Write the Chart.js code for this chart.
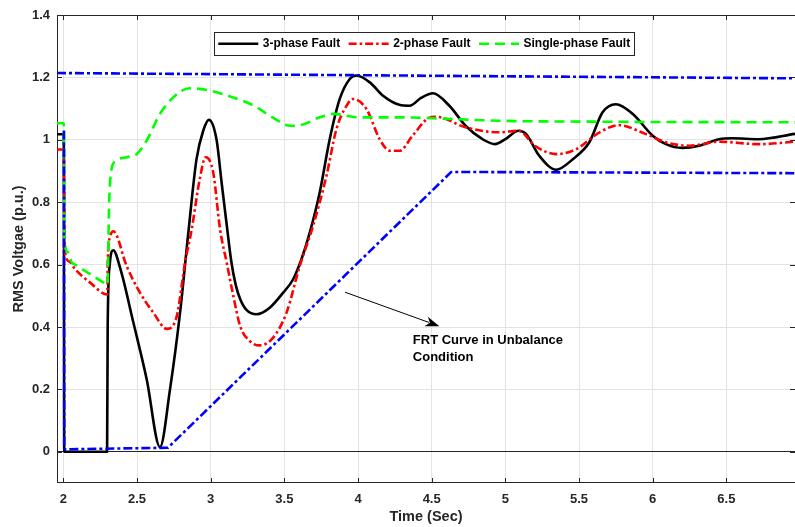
<!DOCTYPE html>
<html>
<head>
<meta charset="utf-8">
<script src="https://cdn.jsdelivr.net/npm/chart.js@4.4.1/dist/chart.umd.min.js"></script>
<style>
html,body{margin:0;padding:0;background:#ffffff;}
canvas{display:block;}
</style>
</head>
<body>
<canvas id="c" width="795" height="527"></canvas>
<script>
// ---------- data ----------
const xTicks = [2, 2.5, 3, 3.5, 4, 4.5, 5, 5.5, 6, 6.5];
const yTicks = [0, 0.2, 0.4, 0.6, 0.8, 1, 1.2, 1.4];
const seriesLabels = ['3-phase Fault', '2-phase Fault', 'Single-phase Fault'];
const axisTitles = ['Time (Sec)', 'RMS Voltgae (p.u.)'];
const annotationText = ['FRT Curve in Unbalance', 'Condition'];

const threePhaseT = [1.957, 2.003, 2.006, 2.297, 2.301, 2.315, 2.339, 2.385, 2.475, 2.566, 2.656, 2.724, 2.792, 2.85, 2.904, 2.95, 2.988, 3.04, 3.075, 3.107, 3.14, 3.17, 3.2, 3.243, 3.311, 3.401, 3.492, 3.56, 3.616, 3.673, 3.74, 3.808, 3.876, 3.944, 3.99, 4.08, 4.17, 4.28, 4.35, 4.43, 4.508, 4.62, 4.73, 4.845, 4.93, 5.0, 5.09, 5.14, 5.23, 5.345, 5.458, 5.57, 5.66, 5.75, 5.865, 6.0, 6.09, 6.2, 6.316, 6.45, 6.54, 6.72, 6.966];
const threePhaseV = [1.018, 1.018, 0.0, 0.0, 0.4, 0.6, 0.646, 0.59, 0.415, 0.232, 0.015, 0.2, 0.445, 0.71, 0.938, 1.03, 1.064, 1.0, 0.86, 0.735, 0.61, 0.535, 0.49, 0.455, 0.441, 0.462, 0.51, 0.553, 0.617, 0.703, 0.831, 1.002, 1.131, 1.195, 1.206, 1.184, 1.141, 1.112, 1.109, 1.135, 1.149, 1.109, 1.045, 1.002, 0.986, 1.002, 1.029, 1.019, 0.949, 0.904, 0.938, 0.992, 1.088, 1.114, 1.083, 1.013, 0.986, 0.974, 0.981, 1.002, 1.005, 1.002, 1.019];

const twoPhaseT = [1.957, 2.003, 2.01, 2.04, 2.08, 2.18, 2.298, 2.302, 2.318, 2.339, 2.43, 2.52, 2.611, 2.702, 2.77, 2.826, 2.87, 2.926, 2.965, 3.017, 3.064, 3.109, 3.154, 3.2, 3.265, 3.333, 3.424, 3.515, 3.605, 3.695, 3.786, 3.854, 3.922, 3.966, 4.057, 4.147, 4.215, 4.283, 4.37, 4.48, 4.53, 4.73, 4.96, 5.09, 5.2, 5.345, 5.48, 5.64, 5.77, 5.95, 6.09, 6.25, 6.45, 6.72, 6.966];
const twoPhaseV = [0.969, 0.969, 0.645, 0.61, 0.585, 0.543, 0.504, 0.62, 0.69, 0.707, 0.595, 0.51, 0.446, 0.394, 0.435, 0.606, 0.71, 0.874, 0.944, 0.896, 0.712, 0.606, 0.499, 0.403, 0.355, 0.341, 0.366, 0.446, 0.596, 0.724, 0.885, 1.035, 1.109, 1.131, 1.099, 1.002, 0.965, 0.965, 1.013, 1.07, 1.074, 1.04, 1.024, 1.029, 0.981, 0.954, 0.97, 1.024, 1.047, 1.019, 0.992, 0.981, 0.994, 0.986, 0.994];

const singlePhaseT = [1.957, 2.003, 2.008, 2.03, 2.057, 2.08, 2.18, 2.27, 2.298, 2.302, 2.31, 2.325, 2.35, 2.43, 2.497, 2.565, 2.656, 2.746, 2.859, 2.994, 3.15, 3.29, 3.42, 3.54, 3.61, 3.74, 3.83, 4.01, 4.28, 4.51, 4.96, 5.64, 6.966];
const singlePhaseV = [1.053, 1.053, 0.68, 0.64, 0.607, 0.6, 0.57, 0.543, 0.535, 0.56, 0.78, 0.9, 0.93, 0.944, 0.954, 0.997, 1.083, 1.136, 1.165, 1.158, 1.136, 1.11, 1.072, 1.045, 1.047, 1.072, 1.083, 1.072, 1.072, 1.069, 1.061, 1.058, 1.056];

const frtUpperT = [1.957, 6.966];
const frtUpperV = [1.214, 1.197];
const frtLowerT = [2.004, 2.006, 2.71, 4.633, 6.966];
const frtLowerV = [1.03, 0.008, 0.013, 0.897, 0.893];

// ---------- helpers ----------
const pts = (t, v) => t.map((x, i) => ({x: x, y: v[i]}));
const FONT = '"Liberation Sans", Arial, Helvetica, sans-serif';
const AXC = '#262626';

const frame = {
  id: 'frame',
  beforeDatasetsDraw(chart) {
    const {ctx, chartArea: a, scales: {x, y}} = chart;
    ctx.save();
    ctx.strokeStyle = AXC;
    ctx.lineWidth = 1;
    ctx.beginPath();
    ctx.moveTo(a.left + 0.5, a.top); ctx.lineTo(a.left + 0.5, a.bottom);
    ctx.moveTo(a.left, a.top + 0.5); ctx.lineTo(a.right, a.top + 0.5);
    ctx.moveTo(a.left, a.bottom - 0.5); ctx.lineTo(a.right, a.bottom - 0.5);
    const L = 5;
    xTicks.forEach(v => {
      const p = Math.round(x.getPixelForValue(v)) + 0.5;
      ctx.moveTo(p, a.bottom); ctx.lineTo(p, a.bottom - L);
      ctx.moveTo(p, a.top); ctx.lineTo(p, a.top + L);
    });
    yTicks.forEach(v => {
      const p = Math.round(y.getPixelForValue(v)) + 0.5;
      ctx.moveTo(a.left, p); ctx.lineTo(a.left + L, p);
      ctx.moveTo(a.right, p); ctx.lineTo(a.right - L, p);
    });
    ctx.stroke();
    ctx.restore();
  }
};

const legendBox = {
  id: 'legendBox',
  afterDatasetsDraw(chart, args, opts) {
    const {ctx, chartArea: a} = chart;
    ctx.save();
    ctx.font = 'bold 12px ' + FONT;
    const items = chart.data.datasets.filter(d => d.inLegend);
    const sample = 40, gapT = 4.5, gapI = 8.5, pad = 4.3;
    let w = pad * 2;
    items.forEach((d, i) => { w += sample + gapT + ctx.measureText(d.label).width + (i ? gapI : 0); });
    const h = 22.5;
    const left = a.left + opts.dx, top = a.top + opts.dy;
    ctx.fillStyle = '#ffffff';
    ctx.fillRect(left, top, w, h);
    ctx.strokeStyle = AXC; ctx.lineWidth = 1;
    ctx.strokeRect(Math.round(left) + 0.5, Math.round(top) + 0.5, Math.round(w), Math.round(h));
    let cx = left + pad;
    const cy = top + h / 2 + 0.5;
    items.forEach((d, i) => {
      if (i) cx += gapI;
      ctx.beginPath();
      ctx.strokeStyle = d.borderColor;
      ctx.lineWidth = d.borderWidth;
      ctx.setLineDash(d.borderDash || []);
      ctx.moveTo(cx, cy); ctx.lineTo(cx + sample, cy);
      ctx.stroke();
      ctx.setLineDash([]);
      cx += sample + gapT;
      ctx.fillStyle = '#000000';
      ctx.textAlign = 'left'; ctx.textBaseline = 'middle';
      ctx.fillText(d.label, cx, cy);
      cx += ctx.measureText(d.label).width;
    });
    ctx.restore();
  }
};

const annotation = {
  id: 'annotation',
  afterDatasetsDraw(chart, args, o) {
    const {ctx, scales: {x, y}} = chart;
    const x0 = x.getPixelForValue(o.from[0]), y0 = y.getPixelForValue(o.from[1]);
    const x1 = x.getPixelForValue(o.to[0]), y1 = y.getPixelForValue(o.to[1]);
    ctx.save();
    ctx.strokeStyle = '#000000'; ctx.fillStyle = '#000000'; ctx.lineWidth = 1;
    const ang = Math.atan2(y1 - y0, x1 - x0);
    const hl = 14, hw = 5;
    const bx = x1 - hl * Math.cos(ang), by = y1 - hl * Math.sin(ang);
    ctx.beginPath(); ctx.moveTo(x0, y0); ctx.lineTo(bx + 3 * Math.cos(ang), by + 3 * Math.sin(ang)); ctx.stroke();
    ctx.beginPath();
    ctx.moveTo(x1, y1);
    ctx.lineTo(bx - hw * Math.sin(ang), by + hw * Math.cos(ang));
    ctx.lineTo(bx + 4 * Math.cos(ang), by + 4 * Math.sin(ang));
    ctx.lineTo(bx + hw * Math.sin(ang), by - hw * Math.cos(ang));
    ctx.closePath(); ctx.fill();
    ctx.font = 'bold 13px ' + FONT;
    ctx.textAlign = 'left'; ctx.textBaseline = 'middle';
    const tx = x.getPixelForValue(o.text[0]);
    o.lines.forEach((t, i) => ctx.fillText(annotationText[i], tx, y.getPixelForValue(o.lineY[i])));
    ctx.restore();
  }
};

const common = {pointRadius: 0, pointHoverRadius: 0, fill: false, borderWidth: 2.6,
  tension: 0.4, cubicInterpolationMode: 'monotone', borderJoinStyle: 'round'};

new Chart(document.getElementById('c'), {
  type: 'line',
  data: {
    datasets: [
      Object.assign({}, common, {label: seriesLabels[0], data: pts(threePhaseT, threePhaseV), borderColor: '#000000', order: 3, inLegend: true}),
      Object.assign({}, common, {label: seriesLabels[1], data: pts(twoPhaseT, twoPhaseV), borderColor: '#ff0000', borderDash: [8, 3, 2.5, 3], order: 2, inLegend: true}),
      Object.assign({}, common, {label: seriesLabels[2], data: pts(singlePhaseT, singlePhaseV), borderColor: '#00ff00', borderDash: [10, 6], order: 1, inLegend: true}),
      Object.assign({}, common, {label: 'FRT upper', data: pts(frtUpperT, frtUpperV), borderColor: '#0000ff', borderDash: [9, 3, 3, 3], tension: 0, cubicInterpolationMode: 'default', order: 0, inLegend: false}),
      Object.assign({}, common, {label: 'FRT lower', data: pts(frtLowerT, frtLowerV), borderColor: '#0000ff', borderDash: [9, 3, 3, 3], tension: 0, cubicInterpolationMode: 'default', order: 0, inLegend: false})
    ]
  },
  options: {
    responsive: false,
    animation: false,
    devicePixelRatio: 1,
    layout: {padding: {top: 15, left: 0, right: 0, bottom: 0}},
    plugins: {
      legend: {display: false},
      tooltip: {enabled: false},
      legendBox: {dx: 157, dy: 17},
      annotation: {from: [3.912, 0.5115], to: [4.552, 0.4026], text: [4.372], lines: annotationText, lineY: [0.357, 0.302]}
    },
    scales: {
      x: {
        type: 'linear', min: 1.957, max: 6.966,
        afterBuildTicks: s => { s.ticks = xTicks.map(v => ({value: v})); },
        afterFit: s => { s.height = 44; },
        border: {display: false},
        grid: {color: '#e3e3e3', lineWidth: 1, drawTicks: false},
        ticks: {autoSkip: false, maxRotation: 0, padding: 9, color: AXC, font: {family: FONT, size: 13, weight: 'bold'}, callback: v => String(v)},
        title: {display: true, text: axisTitles[0], color: AXC, font: {family: FONT, size: 14.5, weight: 'bold'}, padding: {top: 0, bottom: 1.5}}
      },
      y: {
        type: 'linear', min: -0.1, max: 1.4,
        afterBuildTicks: s => { s.ticks = yTicks.map(v => ({value: v})); },
        afterFit: s => { s.width = 57; },
        border: {display: false},
        grid: {color: c => (c.tick && c.tick.value === 0) ? AXC : '#e3e3e3', lineWidth: 1, drawTicks: false},
        ticks: {padding: 7, color: AXC, font: {family: FONT, size: 13, weight: 'bold'}, callback: v => String(v)},
        title: {display: true, text: axisTitles[1], color: AXC, font: {family: FONT, size: 14.5, weight: 'bold'}, padding: {top: 10.5, bottom: 0}}
      }
    }
  },
  plugins: [frame, legendBox, annotation]
});
</script>
</body>
</html>
